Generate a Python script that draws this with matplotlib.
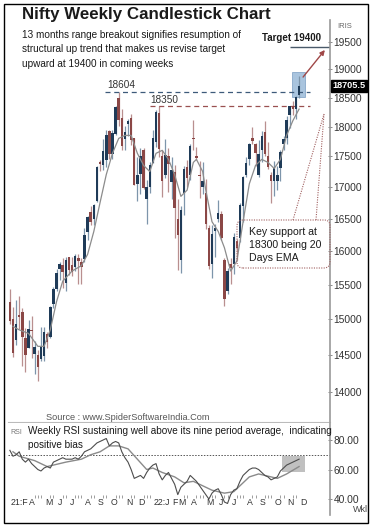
import numpy as np
import matplotlib
matplotlib.use("Agg")
import matplotlib.pyplot as plt
from matplotlib import font_manager
from matplotlib.patches import Rectangle, FancyBboxPatch
from matplotlib.lines import Line2D
from matplotlib.transforms import Affine2D, IdentityTransform, blended_transform_factory

W, H = 374, 527

# weekly candles, week of 15 Feb 2021 .. week of 28 Nov 2022
opens = [15250, 15000, 14702, 15065, 15100, 14737, 14600, 14837, 14516, 14500,
         14449, 14481, 14789, 14756, 15211, 15437, 15725, 15791, 15525, 15915,
         15793, 15766, 15900, 15840, 15875, 16288, 16600, 16500, 16775, 17400,
         17364, 17443, 17932, 17531, 17867, 18500, 18150, 17783, 18040, 18140,
         17800, 17050, 17210, 17600, 16800, 17000, 17388, 17740, 18235, 17500,
         17200, 17500, 17076, 17250, 16500, 15868, 16900, 17329, 17200, 17800,
         17500, 17200, 17000, 16900, 16350, 15800, 16300, 16500, 16570, 15870,
         15400, 15800, 15800, 16150, 16200, 16700, 17200, 17450, 17800, 17700,
         17200, 17600, 17900, 17500, 17200, 17100, 17100, 17300, 17700, 17800,
         18200, 18350, 18300, 18550]
highs = [15431, 15176, 15273, 15336, 15160, 14878, 14984, 15044, 14697, 14563,
         14890, 14890, 14824, 15189, 15469, 15733, 15835, 15901, 15915, 15915,
         15915, 15952, 15962, 15890, 16349, 16543, 16702, 16722, 17340, 17436,
         17793, 17947, 17947, 17948, 18350, 18604, 18310, 18012, 18123, 18210,
         17805, 17490, 17640, 17640, 17118, 17400, 17944, 18286, 18350, 17599,
         17794, 17640, 17490, 17351, 16815, 16694, 17344, 17442, 17703, 18114,
         17650, 17422, 17400, 17132, 16400, 16400, 16415, 16793, 16610, 15900,
         15750, 15890, 16275, 16190, 16752, 17172, 17490, 17720, 17992, 17726,
         17777, 17925, 18096, 17736, 17250, 17428, 17348, 17607, 17839, 18175,
         18362, 18442, 18534, 18888]
lows = [14935, 14467, 14635, 14863, 14350, 14264, 14600, 14459, 14248, 14151,
        14416, 14417, 14591, 14740, 15163, 15400, 15566, 15451, 15405, 15636,
        15633, 15707, 15514, 15513, 15834, 16162, 16396, 16395, 16764, 17255,
        17270, 17327, 17452, 17452, 17865, 18010, 17613, 17600, 17836, 17688,
        17026, 16782, 16892, 16960, 16410, 16900, 17383, 17650, 17485, 16837,
        17150, 16916, 16810, 16203, 15711, 15671, 16555, 17006, 17110, 17600,
        17442, 16824, 16888, 16341, 15735, 15602, 15903, 16444, 16172, 15183,
        15368, 15511, 15661, 15858, 16142, 16438, 17154, 17360, 17710, 17345,
        17167, 17400, 17500, 17291, 16748, 16855, 16950, 17100, 17600, 17700,
        17969, 18200, 18133, 18500]
closes = [14982, 14529, 14938, 15031, 14744, 14507, 14867, 14835, 14617, 14341,
          14631, 14823, 14677, 15175, 15436, 15670, 15799, 15683, 15860, 15722,
          15690, 15923, 15856, 15763, 16238, 16529, 16450, 16705, 17323, 17369,
          17585, 17853, 17532, 17895, 18338, 18114, 17672, 17916, 18103, 17765,
          17027, 17197, 17512, 16986, 17004, 17354, 17812, 18256, 17617, 17102,
          17516, 17375, 17276, 16658, 16245, 16630, 17287, 17153, 17670, 17784,
          17475, 17172, 17102, 16411, 15782, 16266, 16352, 16584, 16202, 15294,
          15700, 15752, 16221, 16049, 16719, 17158, 17398, 17699, 17758, 17559,
          17539, 17833, 17531, 17327, 17094, 17314, 17186, 17577, 17786, 18117,
          18349, 18308, 18512, 18705.5]

# EMA line (week index, value)
ema_week = [1, 3, 6, 9, 11, 13, 15, 17, 20, 23, 25, 27, 29, 31, 33, 35, 37, 39,
            41, 43, 45, 47, 49, 51, 53, 55, 57, 59, 60, 62, 63, 65, 67, 69, 71,
            73, 75, 77, 79, 81, 83, 85, 87, 89, 91, 93]
ema_val = [14900, 14850, 14800, 14620, 14620, 14850, 15250, 15550, 15700, 15780,
           15950, 16300, 16750, 17200, 17550, 17800, 17850, 17850, 17550, 17350,
           17250, 17550, 17600, 17450, 17200, 16850, 16950, 17400, 17450, 17250,
           16950, 16450, 16300, 16050, 15700, 15850, 16450, 17050, 17350, 17450,
           17400, 17300, 17450, 17850, 18100, 18300]

rsi = [73, 69, 70, 72, 67, 65, 67, 64, 62, 60,
       59, 61, 62, 61, 65, 66, 67, 68, 67, 67,
       67, 68, 67, 69, 72, 73, 74, 76, 78, 79,
       80, 81, 76, 78, 79, 78, 72, 68, 65, 60,
       54, 55, 56, 54, 58, 61, 63, 64, 57, 53,
       56, 58, 54, 50, 43, 48, 50, 52, 56, 54,
       52, 49, 46, 43, 40, 44, 46, 47, 43, 38,
       37, 43, 46, 47, 52, 56, 58, 60, 61, 61,
       60, 58, 56, 55, 53, 54, 55, 59, 61, 63,
       64, 65, 66, 67]
rsi_avg_week = [1, 3, 8, 12, 18, 23, 26, 29, 32, 35, 38, 41, 44, 46, 49, 53, 56,
                59, 62, 65, 69, 72, 74, 77, 80, 84, 86, 89, 93]
rsi_avg = [72, 69, 66, 62, 65, 67, 70, 72, 76, 76, 74, 67, 60, 61, 58, 55, 51,
           52, 49, 46, 44, 45, 49, 55, 57, 55, 54, 57, 62]

month_pos = [0, 6, 11, 15, 19, 24, 28, 32, 37, 41, 46, 52, 54, 58, 63, 67, 71,
             76, 80, 85, 89, 93]
month_lab = ["21:F", "A", "M", "J", "J", "A", "S", "O", "N", "D", "22:J", "F",
             "M", "A", "M", "J", "J", "A", "S", "O", "N", "D"]
price_ticks = [14000, 14500, 15000, 15500, 16000, 16500, 17000, 17500, 18000,
               18500, 19000, 19500]
rsi_ticks = [40, 60, 80]

installed = {f.name for f in font_manager.fontManager.ttflist}
if "Liberation Sans Narrow" in installed:
    NARROW, K = "Liberation Sans Narrow", 1.0
else:
    NARROW, K = "Liberation Sans", 0.9
plt.rcParams["font.family"] = ["Liberation Sans", "DejaVu Sans"]

UP, DN = "#1f3b58", "#8b4746"
UP_W, DN_W = "#7d95ab", "#b98f8f"
AXC = "#9a9a9a"
TXT = "#1a1a1a"

fig = plt.figure(figsize=(W / 100, H / 100), dpi=100)
px = Affine2D().scale(1, -1).translate(0, H)   # image pixels -> display


def ptext(x, y, s, **kw):
    fig.text(x, y, s, transform=px, **kw)


XL = (-0.6, 102.95)

# ---- price panel ----
ax = fig.add_axes([8 / W, 1 - 422 / H, 322 / W, 402 / H])
ax.set_yscale("log")
ax.set_ylim(13610, 19910)
ax.set_xlim(*XL)

n = len(opens)
x = np.arange(n)
o, h, l, c = map(np.array, (opens, highs, lows, closes))
up = c >= o
ax.vlines(x, l, h, colors=[UP_W if u else DN_W for u in up], lw=0.9, zorder=2)
ax.bar(x, np.maximum(np.abs(c - o), 15), bottom=np.minimum(o, c), width=0.8,
       color=[UP if u else DN for u in up], zorder=3)
ax.plot(ema_week, ema_val, color="#8c8c8c", lw=0.9, zorder=4)

ax.hlines(18604, 30.6, 96.5, colors="#3d5a7a", linestyles=(0, (4, 3)), lw=0.9)
ax.hlines(18350, 45, 96.5, colors="#9a5050", linestyles=(0, (4, 3)), lw=0.9)
ax.hlines(19400, 90.1, 103, colors="#4a5a6a", lw=1.0)
ax.add_patch(Rectangle((90.7, 18510), 4.3, 18954 - 18510, facecolor="#8db0d4",
                       edgecolor="#6f95bd", lw=0.6, alpha=0.75, zorder=1))
ax.annotate("", xy=(101.3, 19353), xytext=(94.3, 18864),
            arrowprops=dict(arrowstyle="-|>", color="#a04848", lw=1.0,
                            mutation_scale=7, shrinkA=0, shrinkB=0))

ax.yaxis.tick_right()
ax.yaxis.set_minor_locator(plt.NullLocator())
ax.set_yticks(price_ticks)
ax.set_yticklabels([str(t) for t in price_ticks])
ax.set_xticks([])
ax.tick_params(axis="y", direction="inout", length=3, width=0.6, colors="#777",
               labelsize=7.4, labelcolor="#333", pad=1)
for s in ("top", "left"):
    ax.spines[s].set_visible(False)
ax.spines["right"].set_color(AXC)
ax.spines["right"].set_linewidth(1.2)
ax.spines["bottom"].set_color("#bbbbbb")
ax.spines["bottom"].set_linewidth(0.8)

ax.text(1.008, closes[-1], "%.1f" % closes[-1],
        transform=blended_transform_factory(ax.transAxes, ax.transData),
        color="white", fontsize=6.6, fontweight="bold", va="center", ha="left",
        bbox=dict(boxstyle="square,pad=0.15", fc="black", ec="black"), zorder=6)

# ---- RSI panel ----
ax2 = fig.add_axes([8 / W, 1 - 515 / H, 322 / W, 92 / H])
ax2.set_xlim(*XL)
ax2.set_ylim(29.2, 91.5)
ax2.add_patch(Rectangle((87.5, 58.5), 7.5, 10.5, facecolor="#b5b5b5",
                        edgecolor="none", alpha=0.85, zorder=1))
ax2.axhline(70, color="#555555", ls=(0, (1.5, 1.5)), lw=0.7, zorder=2)
ax2.plot(rsi_avg_week, rsi_avg, color="#8a8a8a", lw=1.0, zorder=3)
ax2.plot(np.arange(len(rsi)), rsi, color="#4d4d4d", lw=0.8, zorder=4)
ax2.yaxis.tick_right()
ax2.set_yticks(rsi_ticks)
ax2.set_yticklabels(["%.2f" % t for t in rsi_ticks])
ax2.set_xticks([])
ax2.tick_params(axis="y", direction="inout", length=3, width=0.6, colors="#777",
                labelsize=7.4, labelcolor="#333", pad=1)
for s in ("top", "left", "bottom"):
    ax2.spines[s].set_visible(False)
ax2.spines["right"].set_color(AXC)
ax2.spines["right"].set_linewidth(1.2)

bt = blended_transform_factory(ax2.transData, ax2.transAxes)
covered = set()
for p, lab in zip(month_pos, month_lab):
    ax2.text(p + 0.3, 0.135, lab, transform=bt, fontsize=6.3 * K + 0.6,
             family=NARROW, color="#333", va="center", ha="left")
    span = 5.5 if ":" in lab else 1.6
    covered.update(w for w in range(n) if p - 0.5 <= w <= p + span)
weeks = [w for w in range(n) if w not in covered]
ax2.vlines(weeks, 0.185, 0.215, transform=bt, colors="#777", lw=0.5)

# ---- texts and callouts ----
ptext(22, 15, "Nifty Weekly Candlestick Chart", fontsize=12.2,
      fontweight="bold", color=TXT, va="center")
sub = ["13 months range breakout signifies resumption of",
       "structural up trend that makes us revise target",
       "upward at 19400 in coming weeks"]
for i, s in enumerate(sub):
    ptext(22, 35 + 14.5 * i, s, fontsize=8 * K, family=NARROW, color=TXT,
          va="center")
ptext(337, 27, "IRIS", fontsize=5.5, color="#666", va="center")
ptext(262, 38, "Target 19400", fontsize=7.8 * K, family=NARROW,
      fontweight="bold", color=TXT, va="center")
ptext(107, 85, "18604", fontsize=8 * K, family=NARROW, color="#333", va="center")
ptext(150, 100, "18350", fontsize=8 * K, family=NARROW, color="#333", va="center")

box = FancyBboxPatch((237, H - 268), 93, 48,
                     boxstyle="round,pad=0,rounding_size=6",
                     transform=IdentityTransform(), fc="none", ec="#a06060",
                     lw=0.8, ls=(0, (1, 1.2)))
fig.add_artist(box)
for x0 in (293, 316):
    fig.add_artist(Line2D([x0, 324], [220, 114], transform=px, color="#a06060",
                          lw=0.8, ls=(0, (1, 1.2))))
for i, s in enumerate(["Key support at", "18300 being 20", "Days EMA"]):
    ptext(249, 232 + 13 * i, s, fontsize=7.6, color=TXT, va="center")

ptext(46, 417, "Source : www.SpiderSoftwareIndia.Com", fontsize=6.6,
      color="#555", va="center")
ptext(10, 432, "RSI", fontsize=5, color="#777", va="center")
ptext(28, 431, "Weekly RSI sustaining well above its nine period average,  indicating",
      fontsize=8 * K, family=NARROW, color=TXT, va="center")
ptext(28, 445, "positive bias", fontsize=8 * K, family=NARROW, color=TXT,
      va="center")
ptext(353, 510, "Wkl", fontsize=6.5, color="#444", va="center")

fig.add_artist(Rectangle((4, H - 523), 364, 519, transform=IdentityTransform(),
                         fill=False, ec="black", lw=1.0))

fig.savefig("out.png", dpi=100)
